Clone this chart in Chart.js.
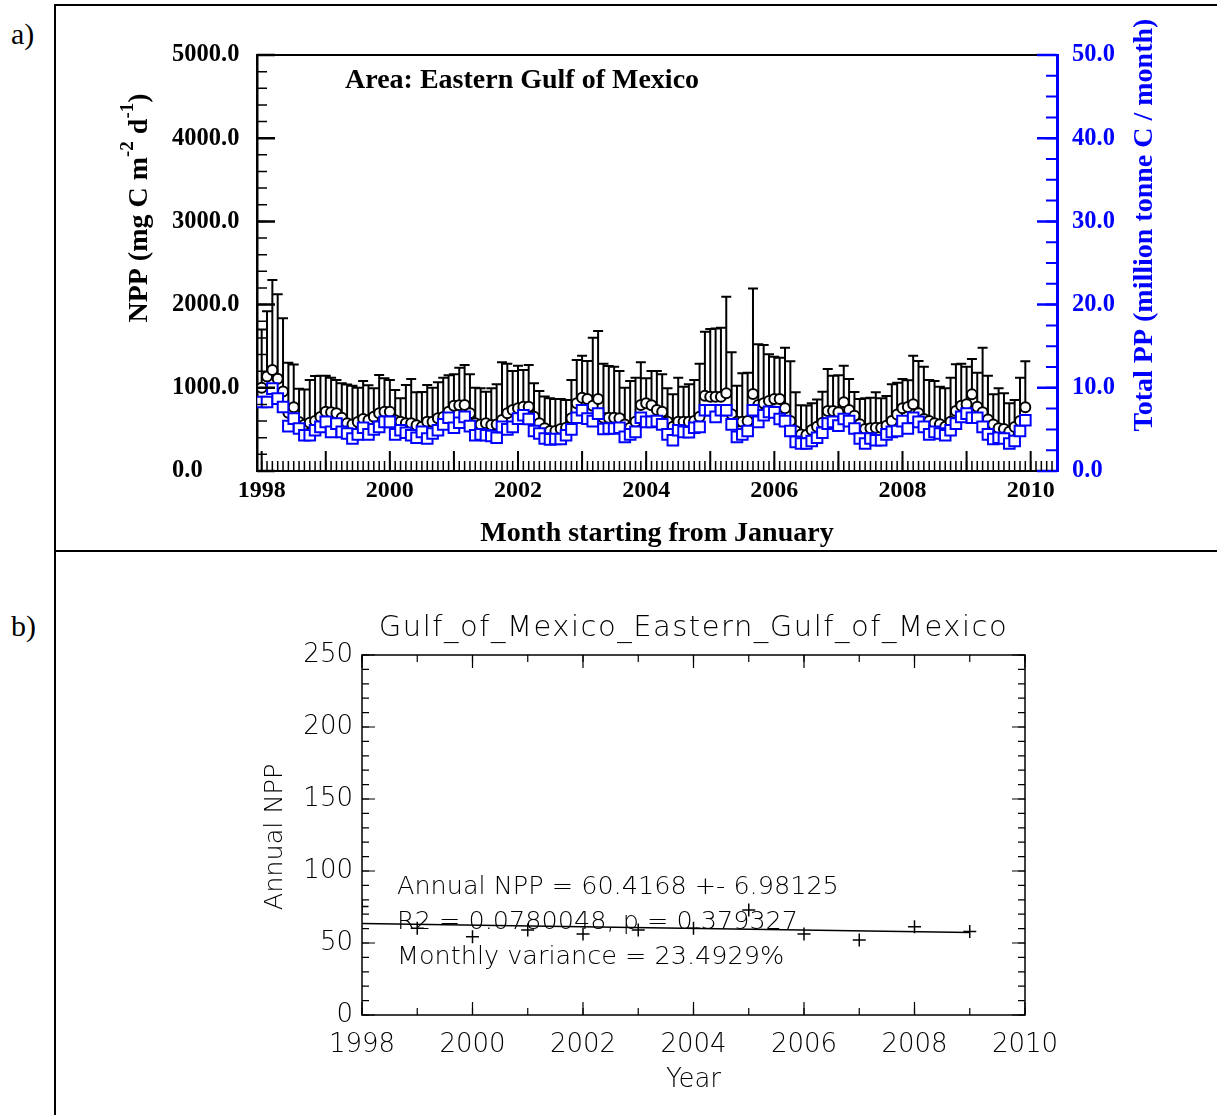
<!DOCTYPE html>
<html>
<head>
<meta charset="utf-8">
<title>Eastern Gulf of Mexico NPP</title>
<script src="https://cdn.jsdelivr.net/npm/chart.js@4.4.1/dist/chart.umd.min.js"></script>
<style>
  html, body { margin: 0; padding: 0; background: #fff; }
  body { position: relative; width: 1217px; height: 1115px; overflow: hidden;
         font-family: 'Liberation Serif', 'Times New Roman', serif; }
  .rule { position: absolute; background: #000; }
  .tag { position: absolute; font-size: 30px; line-height: 1; color: #000; }
  canvas { position: absolute; }
</style>
</head>
<body>
<div class="rule" style="left:54px; top:4px; width:1163px; height:2px;"></div>
<div class="rule" style="left:54px; top:4px; width:2px; height:1111px;"></div>
<div class="rule" style="left:54px; top:550px; width:1163px; height:2px;"></div>
<div class="tag" style="left:11px; top:19px;">a)</div>
<div class="tag" style="left:11px; top:611px;">b)</div>
<canvas id="monthly" width="1160" height="543" style="left:57px; top:7px;"></canvas>
<canvas id="annual" width="1160" height="562" style="left:57px; top:553px;"></canvas>

<script>
// ---- monthly series, Jan 1998 .. Dec 2009 ----
// mean NPP (mg C m-2 d-1)
const nppMean = [
  1000, 1135, 1215, 1110, 955, 700, 765, 590, 555, 580, 600, 650,
  713, 705, 693, 640, 573, 560, 590, 625, 610, 653, 693, 713,
  713, 610, 593, 573, 573, 550, 533, 593, 593, 633, 650, 713,
  785, 790, 793, 693, 573, 560, 573, 553, 560, 613, 693, 733,
  753, 773, 773, 653, 573, 513, 481, 481, 505, 520, 633, 813,
  881, 865, 785, 865, 641, 641, 641, 633, 560, 521, 593, 793,
  813, 790, 733, 713, 593, 533, 593, 593, 593, 601, 653, 905,
  893, 893, 893, 933, 681, 593, 593, 600, 925, 793, 813, 841,
  865, 865, 753, 600, 481, 440, 433, 493, 533, 580, 721, 721,
  705, 825, 733, 665, 561, 505, 513, 521, 521, 545, 601, 680,
  753, 770, 801, 693, 625, 600, 573, 561, 533, 593, 721, 785,
  801, 921, 773, 705, 620, 560, 513, 505, 473, 530, 601, 765
];
// top of the error bar (mean + 1 sd)
const nppUpper = [
  1700, 1920, 2296, 2124, 1835, 1300, 1280, 990, 980, 1094, 1142, 1146,
  1146, 1120, 1094, 1054, 1040, 1025, 1000, 1082, 1030, 994, 1154, 1114,
  1094, 974, 874, 1034, 1106, 946, 950, 1034, 1000, 1066, 1122, 1150,
  1162, 1240, 1274, 1162, 1000, 994, 954, 994, 1042, 1306, 1290, 1202,
  1266, 1214, 1274, 1054, 962, 894, 874, 866, 866, 854, 1094, 1334,
  1386, 1322, 1602, 1682, 1290, 1262, 1254, 1202, 1002, 1082, 1122, 1306,
  1114, 1202, 1202, 1162, 994, 922, 1122, 1014, 1042, 1094, 1290, 1674,
  1706, 1714, 1722, 2094, 1426, 1026, 1174, 1180, 2194, 1522, 1514, 1402,
  1374, 1362, 1482, 1318, 946, 790, 786, 814, 860, 954, 1226, 1146,
  1150, 1266, 1106, 950, 866, 874, 880, 946, 874, 900, 1042, 1060,
  1106, 1090, 1386, 1322, 1254, 1094, 1082, 1014, 994, 1122, 1282, 1290,
  1254, 1346, 1180, 1482, 1146, 922, 994, 934, 814, 854, 1122, 1318
];
// total PP (million tonne C / month)
const totalPP = [
  8.3, 8.3, 9.9, 8.7, 7.7, 5.4, 6.3, 5.1, 4.3, 4.3, 4.9, 5.3,
  5.9, 4.7, 5.7, 4.7, 4.5, 3.9, 4.4, 5.2, 4.4, 5.0, 5.3, 5.9,
  5.9, 4.4, 4.9, 4.6, 4.3, 4.0, 4.7, 3.9, 4.5, 4.9, 5.6, 6.4,
  5.2, 5.8, 6.5, 5.4, 4.3, 4.4, 4.3, 4.2, 4.0, 5.3, 5.0, 5.3,
  6.3, 6.7, 6.25, 4.8, 4.5, 3.9, 3.8, 3.85, 3.85, 4.3, 5.0, 6.4,
  7.3, 6.3, 6.0, 6.9, 5.05, 5.1, 5.1, 5.2, 4.1, 4.4, 4.7, 6.4,
  5.9, 5.9, 6.0, 5.6, 4.4, 3.7, 4.9, 4.7, 4.65, 5.2, 5.3, 7.3,
  7.3, 6.5, 7.3, 7.3, 5.6, 4.1, 4.4, 4.8, 7.3, 5.9, 6.7, 7.1,
  7.05, 6.25, 6.0, 4.8, 3.5, 3.3, 3.3, 3.6, 4.0, 4.6, 5.7, 5.9,
  5.45, 6.25, 6.0, 5.1, 3.9, 3.3, 3.9, 3.7, 3.7, 4.4, 4.7, 4.8,
  6.0, 5.1, 6.4, 5.9, 5.3, 4.4, 4.7, 4.5, 4.3, 4.9, 5.7, 6.5,
  6.9, 6.4, 6.4, 5.3, 4.4, 3.85, 4.0, 3.9, 3.3, 3.6, 4.8, 6.1
];
const yearLabels = [1998, 2000, 2002, 2004, 2006, 2008, 2010];
const nppTicks = [0, 1000, 2000, 3000, 4000, 5000];
const totalTicks = [0, 10, 20, 30, 40, 50];

// ---- annual series ----
const annualYears = [1998, 1999, 2000, 2001, 2002, 2003, 2004, 2005, 2006, 2007, 2008, 2009];
const annualNpp = [75.4, 60.2, 54.4, 59.0, 56.3, 59.0, 60.2, 72.9, 56.3, 52.1, 61.3, 57.9];
const annualTicks = [0, 50, 100, 150, 200, 250];
const annualYearLabels = [1998, 2000, 2002, 2004, 2006, 2008, 2010];
const annualTitle = 'Gulf_of_Mexico_Eastern_Gulf_of_Mexico';
const statLines = [
  'Annual NPP = 60.4168 +- 6.98125',
  'R2 = 0.0780048, p = 0.379327',
  'Monthly variance = 23.4929%'
];

const BLUE = '#0000ff';
const SERIF = "'Liberation Serif', 'Times New Roman', serif";
const SANS = "'DejaVu Sans', 'Liberation Sans', sans-serif";

// month index -> decimal year
const monthX = nppMean.map((_, i) => 1998 + i / 12);

function range(start, stop, step) {
  const out = [];
  for (let k = 0; start + k * step <= stop + 1e-9; k++) out.push(start + k * step);
  return out;
}

// inward tick marks along one side of the plot box
function tickMarks(ctx, area, scale, values, len, side, color, width) {
  ctx.save();
  ctx.strokeStyle = color;
  ctx.lineWidth = width;
  ctx.beginPath();
  values.forEach(v => {
    const p = scale.getPixelForValue(v);
    if (side === 'left') { ctx.moveTo(area.left, p); ctx.lineTo(area.left + len, p); }
    if (side === 'right') { ctx.moveTo(area.right, p); ctx.lineTo(area.right - len, p); }
    if (side === 'bottom') { ctx.moveTo(p, area.bottom); ctx.lineTo(p, area.bottom - len); }
    if (side === 'top') { ctx.moveTo(p, area.top); ctx.lineTo(p, area.top + len); }
  });
  ctx.stroke();
  ctx.restore();
}

// rotated (bottom-to-top) text made of pieces, some raised as superscripts
function rotatedText(ctx, parts, cx, cy, color) {
  ctx.save();
  ctx.translate(cx, cy);
  ctx.rotate(-Math.PI / 2);
  ctx.fillStyle = color;
  ctx.textBaseline = 'middle';
  ctx.textAlign = 'left';
  let total = 0;
  parts.forEach(p => {
    ctx.font = `bold ${p.size}px ${SERIF}`;
    p.w = ctx.measureText(p.text).width;
    total += p.w;
  });
  let pos = -total / 2;
  parts.forEach(p => {
    ctx.font = `bold ${p.size}px ${SERIF}`;
    ctx.fillText(p.text, pos, -(p.rise || 0));
    pos += p.w;
  });
  ctx.restore();
}

const monthlyDecor = {
  id: 'monthlyDecor',
  beforeDatasetsDraw(chart) {
    const { ctx, scales: { x, y } } = chart;
    ctx.save();
    ctx.strokeStyle = '#000';
    ctx.lineWidth = 2;
    ctx.beginPath();
    monthX.forEach((m, i) => {
      const px = x.getPixelForValue(m);
      const y0 = y.getPixelForValue(nppMean[i]);
      const y1 = y.getPixelForValue(nppUpper[i]);
      ctx.moveTo(px, y0);
      ctx.lineTo(px, y1);
      ctx.moveTo(px - 5, y1);
      ctx.lineTo(px + 5, y1);
    });
    ctx.stroke();
    ctx.restore();
  },
  afterDraw(chart) {
    const { ctx, chartArea: a, scales: { x, y, y2 } } = chart;
    // top edge of the box
    ctx.save();
    ctx.strokeStyle = '#000';
    ctx.lineWidth = 2;
    ctx.beginPath();
    ctx.moveTo(a.left, a.top);
    ctx.lineTo(a.right, a.top);
    ctx.stroke();
    ctx.restore();

    tickMarks(ctx, a, y, range(0, 5000, 200), 10, 'left', '#000', 1.5);
    tickMarks(ctx, a, y, range(0, 5000, 1000), 18, 'left', '#000', 2.5);
    tickMarks(ctx, a, y2, range(0, 50, 2.5), 11, 'right', BLUE, 2);
    tickMarks(ctx, a, y2, range(0, 50, 10), 20, 'right', BLUE, 2.5);
    const months = range(0, 160, 1).map(k => 1998 + k / 12).filter(v => v <= x.max);
    tickMarks(ctx, a, x, months, 10, 'bottom', '#000', 1.5);
    tickMarks(ctx, a, x, range(1998, 2010, 1), 20, 'bottom', '#000', 2);

    ctx.save();
    ctx.fillStyle = '#000';
    ctx.font = `bold 28px ${SERIF}`;
    ctx.textBaseline = 'middle';
    ctx.textAlign = 'left';
    ctx.fillText('Area: Eastern Gulf of Mexico', 288, 74);
    ctx.textAlign = 'center';
    ctx.fillText('Month starting from January', (a.left + a.right) / 2, 527);
    ctx.restore();

    rotatedText(ctx, [
      { text: 'NPP (mg C m', size: 28 },
      { text: '-2', size: 19, rise: 12 },
      { text: ' d', size: 28 },
      { text: '-1', size: 19, rise: 12 },
      { text: ')', size: 28 }
    ], 83, 201, '#000');
    rotatedText(ctx, [{ text: 'Total PP (million tonne C / month)', size: 28 }], 1088, 218, BLUE);
  }
};

new Chart(document.getElementById('monthly'), {
  type: 'scatter',
  data: {
    datasets: [
      {
        label: 'Total PP',
        data: monthX.map((m, i) => ({ x: m, y: totalPP[i] })),
        yAxisID: 'y2',
        pointStyle: 'rect',
        pointRadius: 7.5,
        borderWidth: 2,
        borderColor: BLUE,
        backgroundColor: '#fff',
        order: 0
      },
      {
        label: 'NPP',
        data: monthX.map((m, i) => ({ x: m, y: nppMean[i] })),
        yAxisID: 'y',
        pointStyle: 'circle',
        pointRadius: 5,
        borderWidth: 2,
        borderColor: '#000',
        backgroundColor: '#fff',
        order: 1
      }
    ]
  },
  options: {
    responsive: false,
    animation: false,
    devicePixelRatio: 1,
    layout: { padding: { left: 115, top: 48, right: 0, bottom: 0 } },
    plugins: { legend: { display: false }, tooltip: { enabled: false } },
    scales: {
      x: {
        type: 'linear',
        min: 1997.927,
        max: 2010.411,
        grid: { display: false, drawTicks: false },
        border: { color: '#000', width: 2 },
        afterBuildTicks: s => { s.ticks = yearLabels.map(v => ({ value: v })); },
        afterFit: s => { s.height = 79; },
        ticks: {
          font: { family: SERIF, size: 24, weight: 'bold' },
          color: '#000',
          padding: 5,
          autoSkip: false,
          maxRotation: 0,
          callback: v => String(v)
        }
      },
      y: {
        position: 'left',
        min: 0,
        max: 5000,
        grid: { display: false, drawTicks: false },
        border: { color: '#000', width: 2.5 },
        afterBuildTicks: s => { s.ticks = nppTicks.map(v => ({ value: v })); },
        afterFit: s => { s.width = 85; },
        ticks: {
          font: { family: SERIF, size: 24.5, weight: 'bold' },
          color: '#000',
          crossAlign: 'far',
          callback: v => v.toFixed(1)
        }
      },
      y2: {
        position: 'right',
        min: 0,
        max: 50,
        grid: { display: false, drawTicks: false },
        border: { color: BLUE, width: 3 },
        afterBuildTicks: s => { s.ticks = totalTicks.map(v => ({ value: v })); },
        afterFit: s => { s.width = 160; },
        ticks: {
          font: { family: SERIF, size: 24.5, weight: 'bold' },
          color: BLUE,
          padding: 15,
          callback: v => v.toFixed(1)
        }
      }
    }
  },
  plugins: [monthlyDecor]
});

// ---- annual panel ----
function leastSquares(xs, ys) {
  const n = xs.length;
  const mx = xs.reduce((s, v) => s + v, 0) / n;
  const my = ys.reduce((s, v) => s + v, 0) / n;
  let sxy = 0, sxx = 0;
  xs.forEach((v, i) => { sxy += (v - mx) * (ys[i] - my); sxx += (v - mx) * (v - mx); });
  const slope = sxy / sxx;
  return v => my + slope * (v - mx);
}
const trend = leastSquares(annualYears, annualNpp);
const firstYear = annualYears[0];
const lastYear = annualYears[annualYears.length - 1];

const annualDecor = {
  id: 'annualDecor',
  afterDraw(chart) {
    const { ctx, chartArea: a, scales: { x, y } } = chart;
    ctx.save();
    ctx.strokeStyle = '#000';
    ctx.lineWidth = 1.5;
    ctx.strokeRect(a.left, a.top, a.right - a.left, a.bottom - a.top);
    ctx.restore();

    const minorY = range(0, 250, 10);
    const majorY = range(0, 250, 50);
    const minorX = range(1998, 2010, 1);
    const majorX = range(1998, 2010, 2);
    ['left', 'right'].forEach(side => {
      tickMarks(ctx, a, y, minorY, 7, side, '#000', 1.2);
      tickMarks(ctx, a, y, majorY, 13, side, '#000', 1.2);
    });
    ['bottom', 'top'].forEach(side => {
      tickMarks(ctx, a, x, minorX, 7, side, '#000', 1.2);
      tickMarks(ctx, a, x, majorX, 13, side, '#000', 1.2);
    });

    ctx.save();
    ctx.fillStyle = '#000';
    ctx.textBaseline = 'middle';
    ctx.textAlign = 'center';
    ctx.font = `200 29px ${SANS}`;
    ctx.letterSpacing = '1.5px';
    ctx.fillText(annualTitle, (a.left + a.right) / 2, 75);
    ctx.letterSpacing = '0px';
    ctx.font = `200 26px ${SANS}`;
    ctx.fillText('Year', (a.left + a.right) / 2, 527);
    ctx.textAlign = 'left';
    ctx.font = `200 25.5px ${SANS}`;
    statLines.forEach((t, i) => ctx.fillText(t, 340, 334 + i * 35));
    ctx.translate(218, 284);
    ctx.rotate(-Math.PI / 2);
    ctx.textAlign = 'center';
    ctx.font = `200 25.5px ${SANS}`;
    ctx.fillText('Annual NPP', 0, 0);
    ctx.restore();
  }
};

new Chart(document.getElementById('annual'), {
  type: 'scatter',
  data: {
    datasets: [
      {
        label: 'Annual NPP',
        data: annualYears.map((yr, i) => ({ x: yr, y: annualNpp[i] })),
        pointStyle: 'cross',
        pointRadius: 6.5,
        borderWidth: 1.5,
        borderColor: '#000',
        backgroundColor: '#000'
      },
      {
        type: 'line',
        label: 'Trend',
        data: [firstYear, lastYear].map(yr => ({ x: yr, y: trend(yr) })),
        borderColor: '#000',
        borderWidth: 1.5,
        pointRadius: 0,
        fill: false
      }
    ]
  },
  options: {
    responsive: false,
    animation: false,
    devicePixelRatio: 1,
    layout: { padding: { left: 0, top: 102, right: 192, bottom: 0 } },
    plugins: { legend: { display: false }, tooltip: { enabled: false } },
    scales: {
      x: {
        type: 'linear',
        min: 1998,
        max: 2010,
        grid: { display: false, drawTicks: false },
        border: { display: false },
        afterBuildTicks: s => { s.ticks = annualYearLabels.map(v => ({ value: v })); },
        afterFit: s => { s.height = 100; },
        ticks: {
          font: { family: SANS, size: 26, weight: '200' },
          color: '#000',
          padding: 15,
          autoSkip: false,
          maxRotation: 0,
          callback: v => String(v)
        }
      },
      y: {
        min: 0,
        max: 250,
        grid: { display: false, drawTicks: false },
        border: { display: false },
        afterBuildTicks: s => { s.ticks = annualTicks.map(v => ({ value: v })); },
        afterFit: s => { s.width = 305; },
        ticks: {
          font: { family: SANS, size: 26, weight: '200' },
          color: '#000',
          padding: 9,
          callback: v => String(v)
        }
      }
    }
  },
  plugins: [annualDecor]
});
</script>
</body>
</html>
